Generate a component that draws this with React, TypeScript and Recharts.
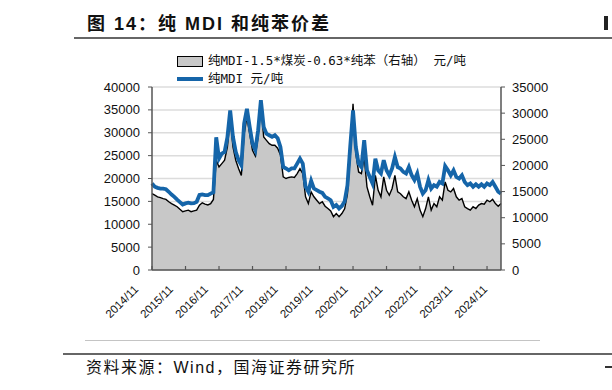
import { ComposedChart, Area, Line, XAxis, YAxis, CartesianGrid } from 'recharts'

const months = [
  '2014/11', '2014/12',
  '2015/01', '2015/02', '2015/03', '2015/04', '2015/05', '2015/06', '2015/07', '2015/08', '2015/09', '2015/10', '2015/11', '2015/12',
  '2016/01', '2016/02', '2016/03', '2016/04', '2016/05', '2016/06', '2016/07', '2016/08', '2016/09', '2016/10', '2016/11', '2016/12',
  '2017/01', '2017/02', '2017/03', '2017/04', '2017/05', '2017/06', '2017/07', '2017/08', '2017/09', '2017/10', '2017/11', '2017/12',
  '2018/01', '2018/02', '2018/03', '2018/04', '2018/05', '2018/06', '2018/07', '2018/08', '2018/09', '2018/10', '2018/11', '2018/12',
  '2019/01', '2019/02', '2019/03', '2019/04', '2019/05', '2019/06', '2019/07', '2019/08', '2019/09', '2019/10', '2019/11', '2019/12',
  '2020/01', '2020/02', '2020/03', '2020/04', '2020/05', '2020/06', '2020/07', '2020/08', '2020/09', '2020/10', '2020/11', '2020/12',
  '2021/01', '2021/02', '2021/03', '2021/04', '2021/05', '2021/06', '2021/07', '2021/08', '2021/09', '2021/10', '2021/11', '2021/12',
  '2022/01', '2022/02', '2022/03', '2022/04', '2022/05', '2022/06', '2022/07', '2022/08', '2022/09', '2022/10', '2022/11', '2022/12',
  '2023/01', '2023/02', '2023/03', '2023/04', '2023/05', '2023/06', '2023/07', '2023/08', '2023/09', '2023/10', '2023/11', '2023/12',
  '2024/01', '2024/02', '2024/03', '2024/04', '2024/05', '2024/06', '2024/07', '2024/08', '2024/09', '2024/10', '2024/11', '2024/12',
  '2025/01', '2025/02', '2025/03', '2025/04',
]

// 纯MDI 元/吨 (left axis)
const mdi = [
  18900, 18200,
  17950, 17800, 17800, 17650, 17100, 16500, 16000, 15400, 14850, 14300, 14550, 14700,
  14550, 14600, 14900, 16400, 16500, 16350, 16350, 16700, 17000, 29000, 24350, 25450,
  25800, 29000, 34900, 29100, 25800, 24000, 22900, 32000, 35250, 31250, 27600, 26200,
  30500, 37100, 31250, 29800, 29450, 29100, 29450, 28800, 26900, 22500, 22200, 21800,
  22200, 22200, 23250, 24350, 23250, 18200, 17100, 19500, 17800, 17450, 17100, 16850,
  16000, 15650, 15250, 13800, 14200, 13450, 14000, 15000, 18500, 27000, 34900, 26900,
  23250, 22500, 28350, 21800, 20350, 18900, 24350, 21800, 21100, 24000, 21800, 20700,
  22200, 24700, 22500, 22200, 21450, 21100, 22500, 20700, 19650, 21100, 18200, 16700,
  17450, 19650, 17800, 18550, 18200, 19250, 18900, 22700, 21800, 20700, 21800, 20350,
  20000, 20700, 19250, 18550, 18900, 18200, 18750, 18200, 18750, 18200, 18900, 18550,
  19250, 18200, 17100, 16700,
]

// 纯MDI-1.5*煤炭-0.63*纯苯 (right axis)
const spread = [
  14600, 14300,
  14000, 13850, 13650, 13500, 13050, 12700, 12400, 12100, 11600, 11150, 11300, 11450,
  11150, 11300, 11450, 12400, 12850, 12600, 12450, 12700, 13500, 21000, 19700, 20350,
  21000, 23500, 28950, 23550, 21000, 19400, 18100, 26000, 29250, 26000, 22900, 21800,
  25450, 31500, 25450, 24800, 24150, 23850, 23850, 23300, 22000, 17800, 17500, 17700,
  17800, 17700, 18450, 19400, 18450, 14000, 12700, 14950, 14000, 13350, 12700, 13050,
  12200, 11750, 11300, 10200, 10800, 10200, 10800, 11700, 14500, 22000, 31800, 22250,
  18750, 18450, 21600, 15900, 14000, 12400, 18100, 15250, 14000, 17800, 15250, 14300,
  15600, 18100, 14950, 14600, 14000, 13650, 14950, 13350, 12100, 13650, 11450, 10200,
  11750, 14000, 11450, 12700, 12100, 14000, 13350, 16850, 15250, 14950, 15600, 14000,
  13350, 13650, 12100, 11750, 11450, 12100, 11750, 12400, 12700, 12600, 13350, 13050,
  13500, 12700, 12200, 12700,
]

const yearTicks = [
  '2014/11', '2015/11', '2016/11', '2017/11', '2018/11', '2019/11',
  '2020/11', '2021/11', '2022/11', '2023/11', '2024/11',
]
const leftTicks = [0, 5000, 10000, 15000, 20000, 25000, 30000, 35000, 40000]
const rightTicks = [0, 5000, 10000, 15000, 20000, 25000, 30000, 35000]

const data = months.map((m, i) => ({ month: m, mdi: mdi[i], spread: spread[i] }))

const latin = '"Liberation Sans", Arial, "Noto Sans CJK SC", sans-serif'
const cjk = '"Liberation Sans", "Noto Sans CJK SC", sans-serif'
const mono = '"DejaVu Sans Mono", "Noto Sans CJK SC", monospace'
const axisColor = '#555'
const blue = '#1565a9'

function YearTick(props: any) {
  const { x, y, payload, index } = props
  const ax = x - 13 + index * 1.4
  const ay = y + 20
  return (
    <g>
      <line x1={x} x2={x} y1={y} y2={y - 4} stroke={axisColor} strokeWidth={1.2} />
      <text
        x={ax}
        y={ay}
        transform={`rotate(-45, ${ax}, ${ay})`}
        textAnchor="end"
        fontSize={11.5}
        fontFamily={latin}
        fill="#111"
      >
        {payload.value}
      </text>
    </g>
  )
}

export default function App() {
  return (
    <div style={{ position: 'absolute', left: 0, top: 0, width: 612, height: 390, background: '#fff', overflow: 'hidden' }}>
      <div style={{ position: 'absolute', left: 87, top: 13, fontFamily: cjk, fontWeight: 'bold', fontSize: 18, lineHeight: '22px', letterSpacing: 2, color: '#111', whiteSpace: 'nowrap' }}>
        图 14：纯 MDI 和纯苯价差
      </div>
      {/* clipped edge of the neighbouring figure's heading */}
      <div style={{ position: 'absolute', left: 604, top: 16, width: 4, height: 14, background: '#222' }} />
      <div style={{ position: 'absolute', left: 74, top: 37, width: 538, height: 2, background: '#666' }} />

      <ComposedChart width={612} height={390} data={data} margin={{ top: 87, right: 0, bottom: 0, left: 0 }}>
        <CartesianGrid yAxisId="left" vertical={false} stroke="#dcdcdc" strokeWidth={1.5} />
        <XAxis
          dataKey="month"
          ticks={yearTicks}
          interval={0}
          height={120}
          tickSize={0}
          tickMargin={0}
          tickLine={false}
          tick={<YearTick />}
          axisLine={{ stroke: axisColor, strokeWidth: 1.5 }}
        />
        <YAxis
          yAxisId="left"
          width={152}
          domain={[0, 40000]}
          ticks={leftTicks}
          interval={0}
          tickSize={4}
          tickMargin={8}
          axisLine={{ stroke: axisColor, strokeWidth: 1.5 }}
          tickLine={{ stroke: axisColor }}
          tick={{ fill: '#111', fontSize: 13, fontFamily: latin }}
        />
        <YAxis
          yAxisId="right"
          orientation="right"
          width={111}
          domain={[0, 35000]}
          ticks={rightTicks}
          interval={0}
          tickSize={4}
          tickMargin={7}
          axisLine={{ stroke: axisColor, strokeWidth: 1.5 }}
          tickLine={{ stroke: axisColor }}
          tick={{ fill: '#111', fontSize: 13, fontFamily: latin, textAnchor: 'start' }}
        />
        <Area
          yAxisId="right"
          type="linear"
          dataKey="spread"
          stroke="#000"
          strokeWidth={1.4}
          fill="#c8c8c8"
          fillOpacity={1}
          isAnimationActive={false}
        />
        <Line
          yAxisId="left"
          type="linear"
          dataKey="mdi"
          stroke={blue}
          strokeWidth={3.8}
          dot={false}
          isAnimationActive={false}
        />
      </ComposedChart>

      <div style={{ position: 'absolute', left: 177, top: 56, width: 24, height: 9, background: '#c8c8c8', border: '1px solid #000' }} />
      <div style={{ position: 'absolute', left: 208, top: 53, fontFamily: mono, fontSize: 12.5, lineHeight: '16px', color: '#111', whiteSpace: 'nowrap' }}>
        纯MDI-1.5*煤炭-0.63*纯苯（右轴） 元/吨
      </div>
      <div style={{ position: 'absolute', left: 177, top: 77, width: 26, height: 3.5, background: blue }} />
      <div style={{ position: 'absolute', left: 208, top: 71, fontFamily: mono, fontSize: 12.5, lineHeight: '16px', color: '#111', whiteSpace: 'nowrap' }}>
        纯MDI 元/吨
      </div>

      <div style={{ position: 'absolute', left: 85, top: 340, width: 455, height: 1, background: '#c4c4c4' }} />
      <div style={{ position: 'absolute', left: 63, top: 353, width: 549, height: 2, background: '#666' }} />
      <div style={{ position: 'absolute', left: 86, top: 358, fontFamily: cjk, fontSize: 16, lineHeight: '20px', letterSpacing: 1.5, color: '#111', whiteSpace: 'nowrap' }}>
        资料来源：Wind，国海证券研究所
      </div>
      <div style={{ position: 'absolute', left: 605, top: 366, width: 7, height: 1.5, background: '#333' }} />
    </div>
  )
}
